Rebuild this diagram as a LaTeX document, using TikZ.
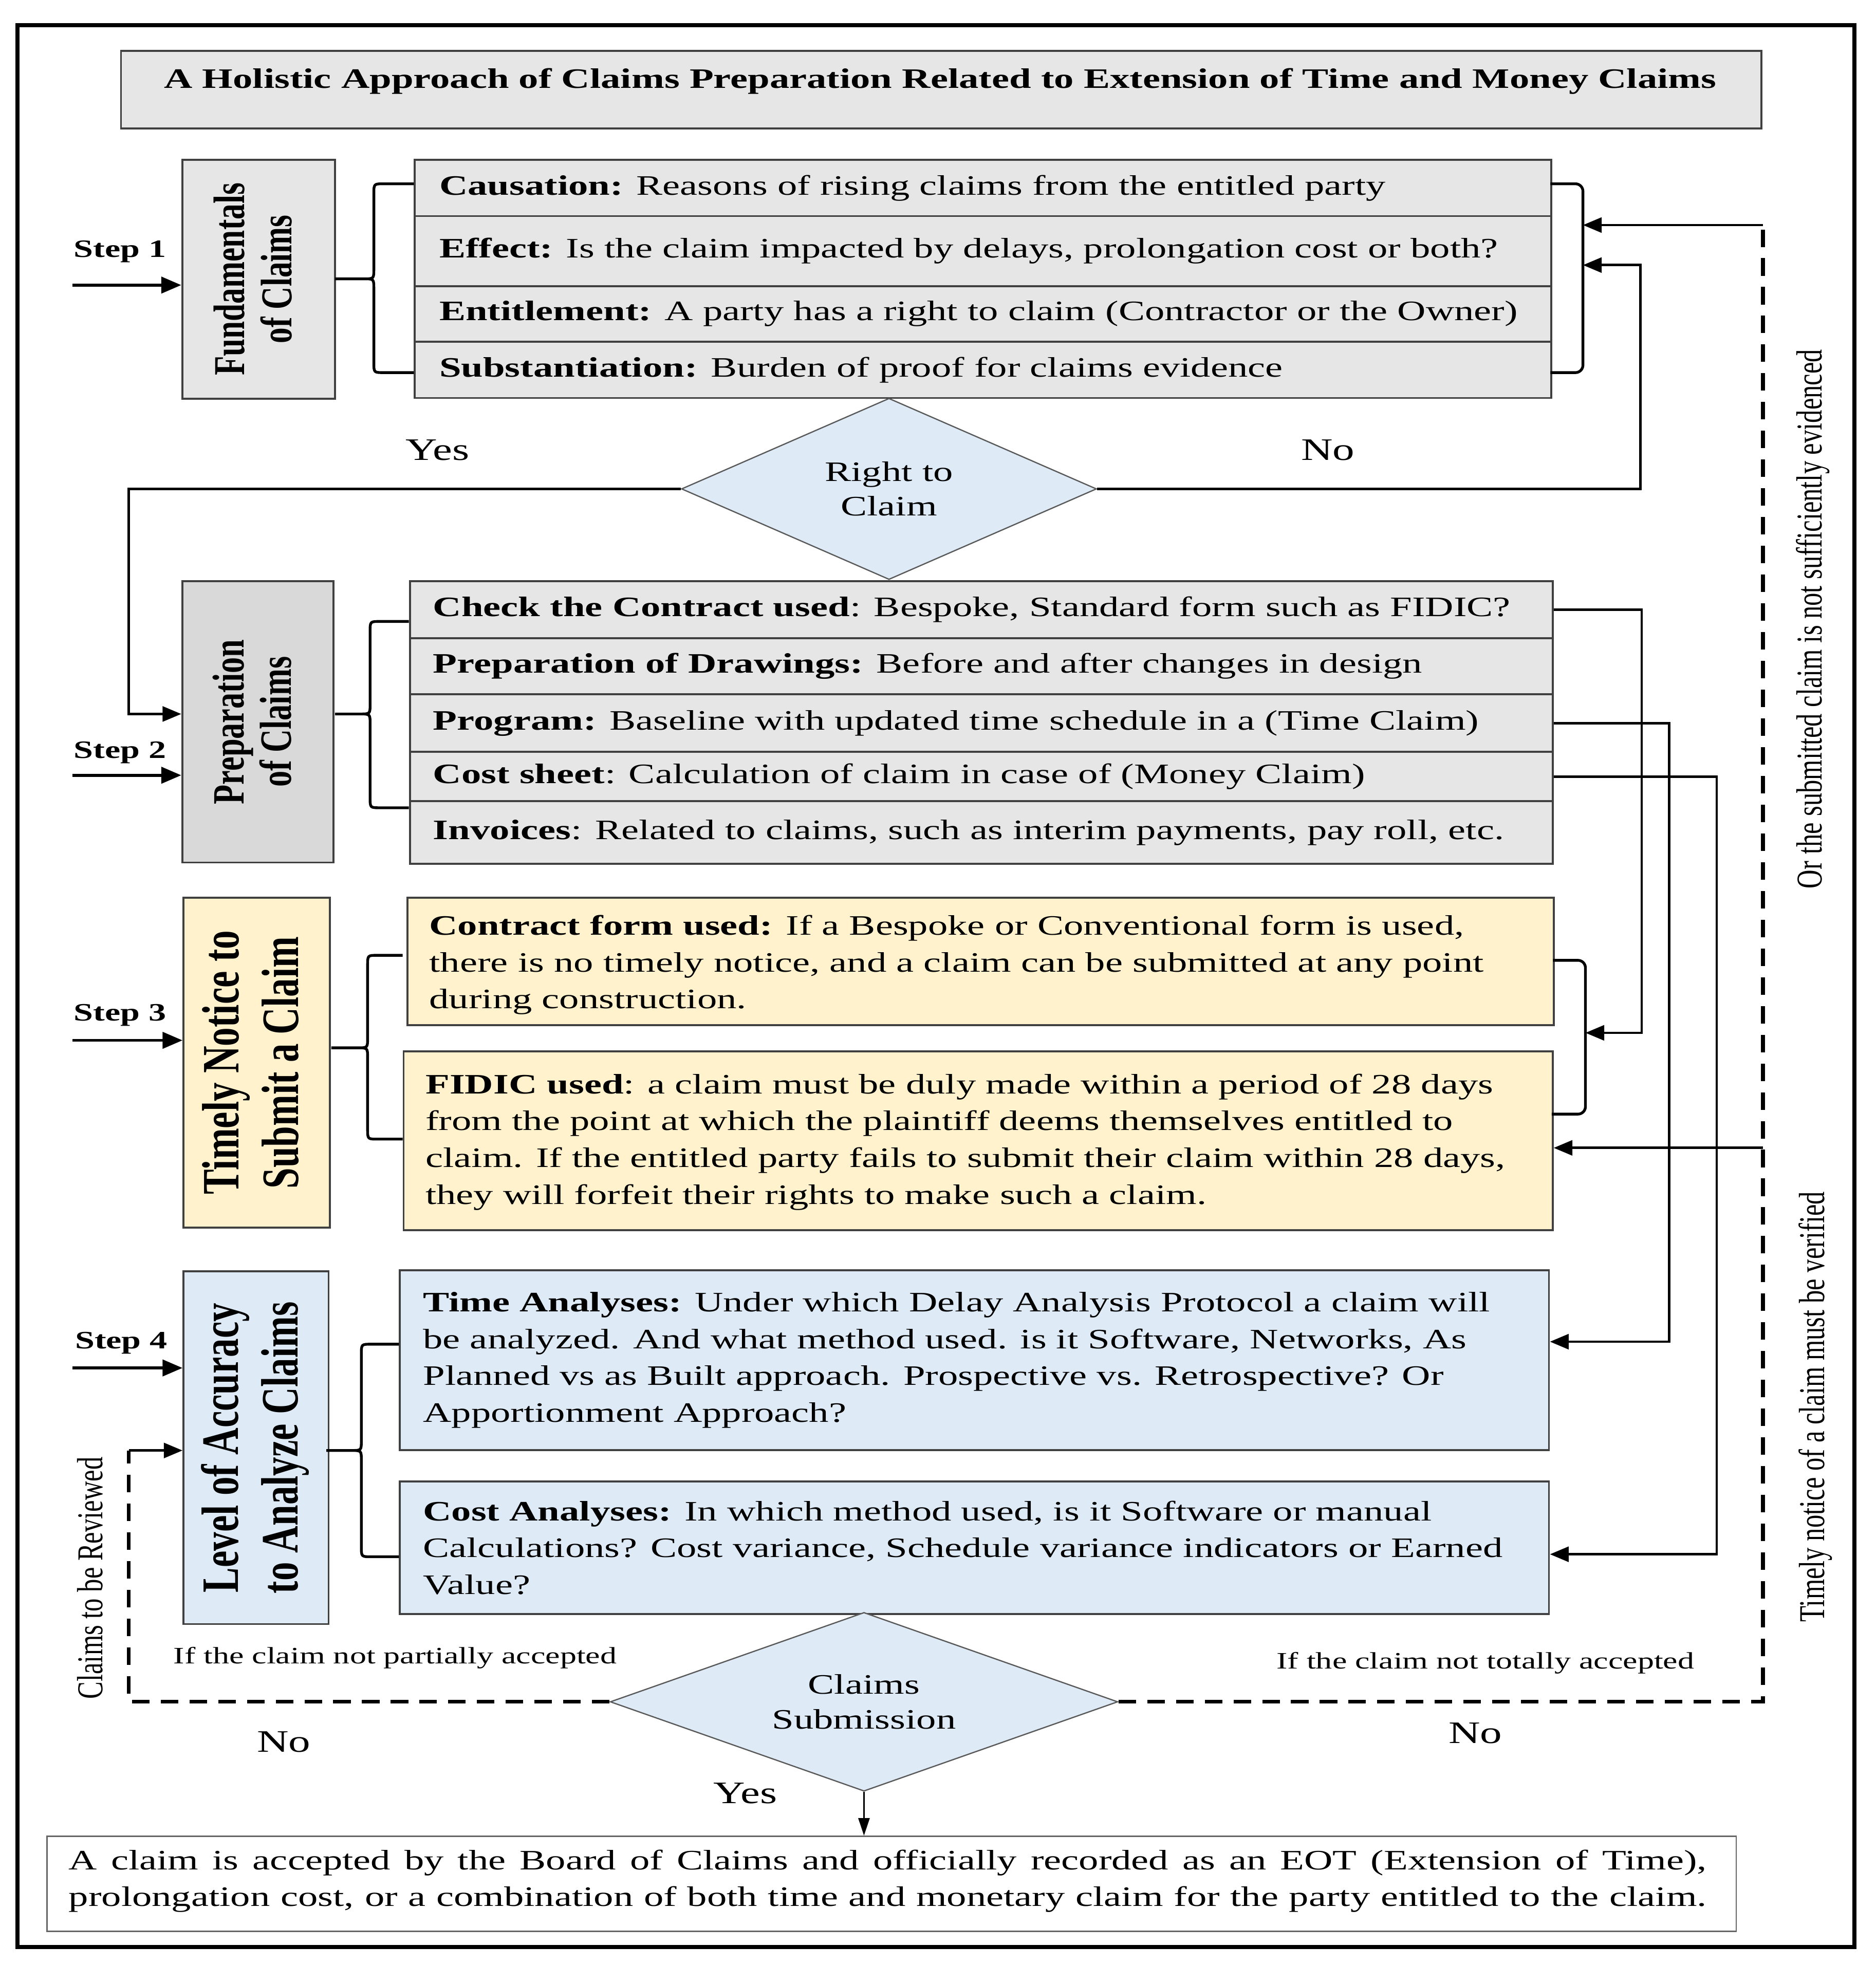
\documentclass[tikz,border=0pt]{standalone}
\usepackage{fontspec}
\usepackage{graphicx}
\setmainfont{Liberation Serif}[FakeStretch=1.4]
\newfontfamily\rotfont{Liberation Serif}
\usetikzlibrary{arrows.meta,shapes.geometric}
\definecolor{boxgray}{HTML}{E7E6E6}
\definecolor{boxgrayd}{HTML}{D9D9D9}
\definecolor{boxyel}{HTML}{FFF2CC}
\definecolor{boxblue}{HTML}{DEEBF7}
\definecolor{edgec}{HTML}{404040}
\newcommand\myBody{\fontsize{11.25}{14.7}\selectfont}
\newcommand\myRot[3]{\scalebox{1}[1.4]{\rotfont\bfseries\fontsize{#1}{#2}\selectfont\begin{tabular}{@{}c@{}}#3\end{tabular}}}
\newcommand\myRotTxt[1]{\scalebox{1}[1.4]{\rotfont\fontsize{10.4}{12}\selectfont #1}}
\newcommand\mybrace[6]{\draw[brk] (#1,#4) -- ({#2+8},#4) .. controls (#2,#4) .. (#2,{#4+8}) -- (#2,{#5-8}) .. controls (#2,#5) .. ({#2-8},#5) -- (#3,#5) -- ({#2-8},#5) .. controls (#2,#5) .. (#2,{#5+8}) -- (#2,{#6-8}) .. controls (#2,#6) .. ({#2+8},#6) -- (#1,#6);}
\begin{document}
\begin{tikzpicture}[x=0.5pt,y=-0.5pt,
 bx/.style={draw=edgec,line width=0.8pt,inner sep=0pt,anchor=north west},
 txt/.style={anchor=west,align=left,inner sep=0pt,font=\myBody},
 conn/.style={line width=1pt,-{Triangle[length=7.5pt,width=6pt]}},
 brk/.style={line width=1.1pt},
 dashln/.style={line width=1.5pt,dash pattern=on 7pt off 4.5pt},
 steparr/.style={line width=1.2pt,-{Triangle[length=8pt,width=6.5pt]}},
 steplbl/.style={font=\bfseries\fontsize{10}{12}\selectfont,inner sep=0pt},
 yn/.style={font=\fontsize{12.5}{14}\selectfont,inner sep=0pt},
 small/.style={font=\fontsize{9.4}{11}\selectfont,inner sep=0pt},
 dia/.style={diamond,draw=gray!70!black,line width=0.5pt,fill=boxblue,inner sep=0pt,align=center,font=\fontsize{11.25}{13.8}\selectfont}
]
\fill[white] (0,0) rectangle (1500,1571.5);
\useasboundingbox (0,0) rectangle (1500,1571.5);
\draw[line width=1.6pt] (14,20) rectangle (1483,1557);

% title
\node[bx,fill=boxgray,minimum width=656pt,minimum height=31pt] (title) at (96,40) {};
\node[font=\bfseries\fontsize{11.25}{13}\selectfont,inner sep=0pt] (titletxt) at (752,65) {A Holistic Approach of Claims Preparation Related to Extension of Time and Money Claims};

% ---------- step 1
\node[bx,fill=boxgray,minimum width=61pt,minimum height=95.5pt] (fund) at (145,127) {};
\node[rotate=90,inner sep=0pt] (fundt) at (fund.center) {\myRot{12.6}{13.5}{Fundamentals\\of Claims}};
\node[bx,fill=boxgray,minimum width=454.5pt,minimum height=22.5pt] (ca) at (331,127) {};
\node[bx,fill=boxgray,minimum width=454.5pt,minimum height=28pt] (ef) at (331,172) {};
\node[bx,fill=boxgray,minimum width=454.5pt,minimum height=22.25pt] (en) at (331,228) {};
\node[bx,fill=boxgray,minimum width=454.5pt,minimum height=22.5pt] (su) at (331,272.5) {};
\node[txt] (cat) at ([xshift=10pt]ca.west) {\textbf{Causation:} Reasons of rising claims from the entitled party};
\node[txt] (eft) at ([xshift=10pt]ef.west) {\textbf{Effect:} Is the claim impacted by delays, prolongation cost or both?};
\node[txt] (ent) at ([xshift=10pt]en.west) {\textbf{Entitlement:} A party has a right to claim (Contractor or the Owner)};
\node[txt] (sut) at ([xshift=10pt]su.west) {\textbf{Substantiation:} Burden of proof for claims evidence};
\mybrace{331}{299}{268}{147}{223}{298}
\draw[brk,rounded corners=3pt] (1240,147) -- (1266,147) -- (1266,298) -- (1240,298);
\coordinate (b1a) at (1266,180);
\coordinate (b1b) at (1266,212);
\node[steplbl] (st1) at (96,201) {Step 1};
\coordinate (st1a) at (58,228);

% diamond 1
\node[dia,aspect=2.29,minimum width=166pt,minimum height=72.5pt] (d1) at (711,391) {Right to\\Claim};
\node[yn] (yes1) at (350,360) {Yes};
\node[yn] (no1) at (1062,360) {No};

% ---------- step 2
\node[bx,fill=boxgrayd,minimum width=60.5pt,minimum height=112.5pt] (prep) at (145,464) {};
\node[rotate=90,inner sep=0pt] (prept) at (prep.center) {\myRot{12.8}{13.5}{Preparation\\of Claims}};
\node[bx,fill=boxgray,minimum width=457pt,minimum height=22.75pt] (cc) at (327,464) {};
\node[bx,fill=boxgray,minimum width=457pt,minimum height=22.5pt] (pd) at (327,509.5) {};
\node[bx,fill=boxgray,minimum width=457pt,minimum height=23pt] (pg) at (327,554.5) {};
\node[bx,fill=boxgray,minimum width=457pt,minimum height=19.75pt] (cs) at (327,600.5) {};
\node[bx,fill=boxgray,minimum width=457pt,minimum height=25pt] (iv) at (327,640) {};
\node[txt] (cct) at ([xshift=9.5pt]cc.west) {\textbf{Check the Contract used}: Bespoke, Standard form such as FIDIC?};
\node[txt] (pdt) at ([xshift=9.5pt]pd.west) {\textbf{Preparation of Drawings:} Before and after changes in design};
\node[txt] (pgt) at ([xshift=9.5pt]pg.west) {\textbf{Program:} Baseline with updated time schedule in a (Time Claim)};
\node[txt] (cst) at ([xshift=9.5pt]cs.west) {\textbf{Cost sheet}: Calculation of claim in case of (Money Claim)};
\node[txt] (ivt) at ([xshift=9.5pt]iv.west) {\textbf{Invoices}: Related to claims, such as interim payments, pay roll, etc.};
\mybrace{327}{296}{268}{497}{571}{646}
\node[steplbl] (st2) at (96,602) {Step 2};
\coordinate (st2a) at (58,620);

% ---------- step 3
\node[bx,fill=boxyel,minimum width=58.5pt,minimum height=132pt] (tim) at (146,717) {};
\node[rotate=90,inner sep=0pt] (timt) at (tim.center) {\myRot{15}{17}{Timely Notice to\\Submit a Claim}};
\node[bx,fill=boxyel,minimum width=458.5pt,minimum height=51pt] (cf) at (325,717) {};
\node[bx,fill=boxyel,minimum width=459.5pt,minimum height=71.5pt] (fd) at (322,840) {};
\node[txt] (cft) at ([xshift=9pt,yshift=-1.5pt]cf.west) {\textbf{Contract form used:} If a Bespoke or Conventional form is used,\\there is no timely notice, and a claim can be submitted at any point\\during construction.};
\node[txt] (fdt) at ([xshift=9pt,yshift=-0.5pt]fd.west) {\textbf{FIDIC used}: a claim must be duly made within a period of 28 days\\from the point at which the plaintiff deems themselves entitled to\\claim. If the entitled party fails to submit their claim within 28 days,\\they will forfeit their rights to make such a claim.};
\mybrace{322}{294}{265}{764}{838}{911}
\draw[brk,rounded corners=3pt] (1242,768) -- (1268,768) -- (1268,891) -- (1241,891);
\coordinate (b3a) at (1268,826);
\node[steplbl] (st3) at (96,812) {Step 3};
\coordinate (st3a) at (58,832);

% ---------- step 4
\node[bx,fill=boxblue,minimum width=58pt,minimum height=141pt] (acc) at (146,1016) {};
\node[rotate=90,inner sep=0pt] (acct) at (acc.center) {\myRot{15}{17}{Level of Accuracy\\to Analyze Claims}};
\node[bx,fill=boxblue,minimum width=459.5pt,minimum height=72pt] (ta) at (319,1015) {};
\node[bx,fill=boxblue,minimum width=459.5pt,minimum height=53pt] (ct) at (319,1184) {};
\node[txt] (tat) at ([xshift=9.5pt]ta.west) {\textbf{Time Analyses:} Under which Delay Analysis Protocol a claim will\\be analyzed. And what method used. is it Software, Networks, As\\Planned vs as Built approach. Prospective vs. Retrospective? Or\\Apportionment Approach?};
\node[txt] (ctt) at ([xshift=9.5pt]ct.west) {\textbf{Cost Analyses:} In which method used, is it Software or manual\\Calculations? Cost variance, Schedule variance indicators or Earned\\Value?};
\mybrace{319}{289}{261}{1075}{1160}{1245}
\node[steplbl] (st4) at (97,1074) {Step 4};
\coordinate (st4a) at (58,1094);

% diamond 2
\node[dia,aspect=2.84,minimum width=203pt,minimum height=71.5pt,font=\fontsize{11.25}{14}\selectfont] (d2) at (691,1361) {Claims\\Submission};
\node[small] (lp) at (316,1326) {If the claim not partially accepted};
\node[small] (lt) at (1188,1330) {If the claim not totally accepted};
\node[yn] (no2) at (227,1393) {No};
\node[yn] (no3) at (1180,1386) {No};
\node[yn] (yes2) at (596,1434) {Yes};

% final box
\node[bx,draw=gray!80!black,line width=0.6pt,fill=white,minimum width=675.5pt,minimum height=38pt] (fin) at (37,1468) {};
\node[inner sep=0pt,font=\fontsize{11.25}{14.5}\selectfont] (fint) at (710,1504) {\begin{tabular}{@{}l@{}}\makebox[655pt][s]{A claim is accepted by the Board of Claims and officially recorded as an EOT (Extension of Time),}\\\makebox[655pt][s]{prolongation cost, or a combination of both time and monetary claim for the party entitled to the claim.}\end{tabular}};

% side labels
\node[rotate=90,inner sep=0pt] (evl) at (1450,495) {\myRotTxt{Or the submitted claim is not sufficiently evidenced}};
\node[rotate=90,inner sep=0pt] (tvl) at (1452,1125) {\myRotTxt{Timely notice of a claim must be verified}};
\node[rotate=90,inner sep=0pt] (rvl) at (72,1262) {\myRotTxt{Claims to be Reviewed}};

% ---------- connectors
\draw[steparr] (st1a) -- (st1a -| fund.west);
\draw[steparr] (st2a) -- (st2a -| prep.west);
\draw[steparr] (st3a) -- (st3a -| tim.west);
\draw[steparr] (st4a) -- (st4a -| acc.west);

\coordinate (yc) at (103,571);
\draw[conn] (d1.west) -| (yc) -- (yc -| prep.west);
\coordinate (nc) at (1312,212);
\draw[conn] (d1.east) -| (nc) -- (b1b);

\coordinate (c3) at (1313,826);
\draw[conn] (cc.east) -| (c3) -- (b3a);
\coordinate (c4) at (1335,1073);
\draw[conn] (pg.east) -| (c4) -- (c4 -| ta.east);
\coordinate (c5) at (1373,1243);
\draw[conn] (cs.east) -| (c5) -- (c5 -| ct.east);

\coordinate (dtop) at (1410,180);
\draw[dashln] (d2.east) -| (dtop);
\draw[conn] (dtop) -- (b1a);
\coordinate (dmid) at (1410,918);
\draw[conn] (dmid) -- (dmid -| fd.east);

\coordinate (rv) at (103,1160);
\draw[dashln] (d2.west) -| (rv);
\draw[conn] (rv) -- (rv -| acc.west);

\draw[line width=0.6pt,-{Triangle[length=7pt,width=4.5pt]}] (d2.south) -- (d2.south |- fin.north);
\end{tikzpicture}
\end{document}
